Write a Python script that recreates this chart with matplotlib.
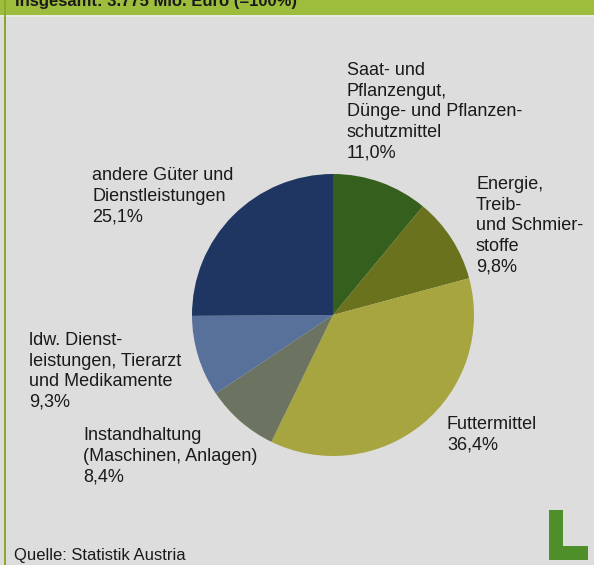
import matplotlib.pyplot as plt
from matplotlib.patches import Rectangle

plt.rcParams['font.family'] = ['Liberation Sans', 'DejaVu Sans']

# --- Daten ---
categories = ['Saat- und Pflanzengut', 'Energie', 'Futtermittel',
              'Instandhaltung', 'ldw. Dienstleistungen', 'andere Güter']
shares = [11.0, 9.8, 36.4, 8.4, 9.3, 25.1]
labels = [
    'Saat- und\nPflanzengut,\nDünge- und Pflanzen-\nschutzmittel\n11,0%',
    'Energie,\nTreib-\nund Schmier-\nstoffe\n9,8%',
    'Futtermittel\n36,4%',
    'Instandhaltung\n(Maschinen, Anlagen)\n8,4%',
    'ldw. Dienst-\nleistungen, Tierarzt\nund Medikamente\n9,3%',
    'andere Güter und\nDienstleistungen\n25,1%',
]
colors = ['#345f1c', '#6a721e', '#a6a53f', '#6c7360', '#58719a', '#203662']
# Position der Beschriftung (Pixel, links oben)
label_pos = [(347, 62), (476, 176), (447, 416), (83, 427), (29, 332), (92, 167)]

W, H = 594, 565
fig = plt.figure(figsize=(W / 100, H / 100), dpi=100)
fig.patch.set_facecolor('#dddddd')

# Kopfzeile (grün) + linker Rand
fig.patches.append(Rectangle((0, 1 - 15 / H), 1, 15 / H, transform=fig.transFigure,
                             facecolor='#9fbd3c', edgecolor='none'))
fig.patches.append(Rectangle((0, 1 - 17 / H), 1, 2 / H, transform=fig.transFigure,
                             facecolor='#e8ebe0', edgecolor='none'))
fig.patches.append(Rectangle((4 / W, 0), 2 / W, 1, transform=fig.transFigure,
                             facecolor='#8aaa2e', edgecolor='none'))
fig.text(15 / W, 1 - 6 / H, 'Insgesamt: 3.775 Mio. Euro (=100%)', fontsize=12,
         fontweight='bold', color='#1a1a1a', va='baseline', ha='left')

# Kuchendiagramm
cx, cy, r = 333, 315, 141
ax = fig.add_axes([(cx - r) / W, (H - cy - r) / H, 2 * r / W, 2 * r / H])
ax.pie(shares, colors=colors, startangle=90, counterclock=False,
       wedgeprops=dict(linewidth=0))
ax.set_xlim(-1, 1)
ax.set_ylim(-1, 1)
ax.set_aspect('equal')
ax.axis('off')

for lab, (x, y) in zip(labels, label_pos):
    fig.text(x / W, 1 - y / H, lab, fontsize=13, color='#1a1a1a',
             ha='left', va='top', linespacing=1.28)

fig.text(14 / W, 1 - 560 / H, 'Quelle: Statistik Austria', fontsize=12,
         color='#1a1a1a', ha='left', va='baseline')

# Logo "L"
fig.patches.append(Rectangle((549 / W, 1 - 560 / H), 14 / W, 50 / H,
                             transform=fig.transFigure, facecolor='#4f8f2a', edgecolor='none'))
fig.patches.append(Rectangle((549 / W, 1 - 560 / H), 39 / W, 14 / H,
                             transform=fig.transFigure, facecolor='#4f8f2a', edgecolor='none'))

fig.savefig('out.png', dpi=100, facecolor=fig.get_facecolor())
